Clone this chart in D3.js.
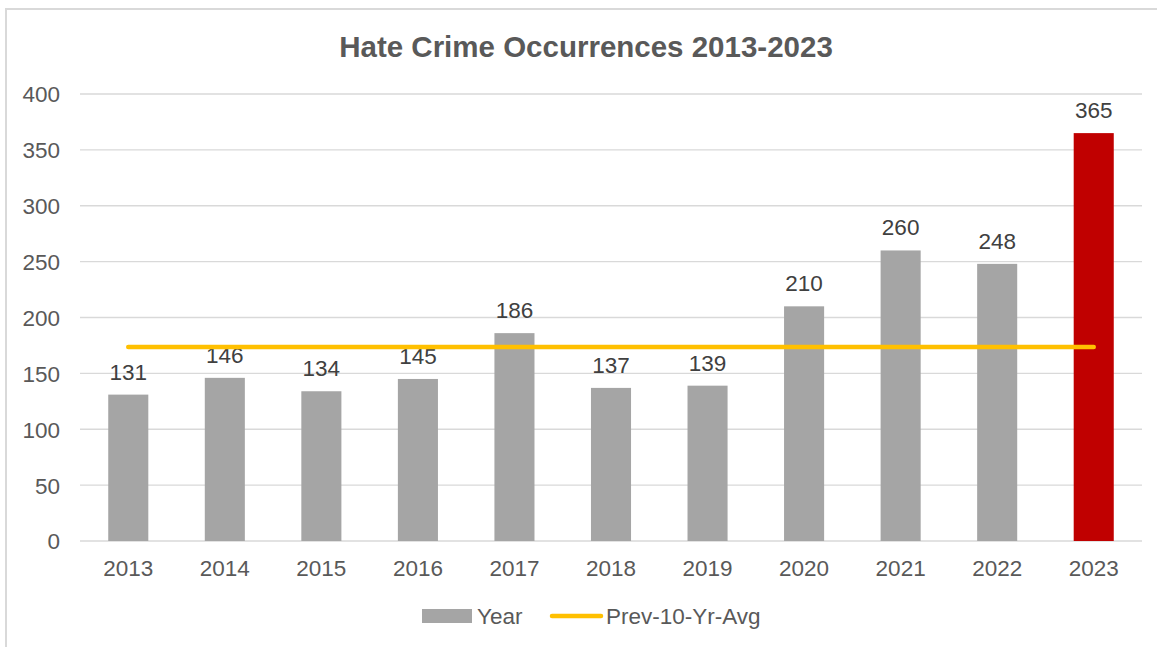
<!DOCTYPE html>
<html>
<head>
<meta charset="utf-8">
<script src="https://cdn.jsdelivr.net/npm/d3@7"></script>
<style>
  html, body { margin: 0; padding: 0; background: #fff; }
  svg { display: block; }
  text { font-family: "Liberation Sans", Arial, sans-serif; }
</style>
</head>
<body>
<svg id="chart" width="1157" height="647"></svg>
<script>
const categories = ["2013","2014","2015","2016","2017","2018","2019","2020","2021","2022","2023"];
const yearValues = [131,146,134,145,186,137,139,210,260,248,365];
const prevAvgValues = [173.6,173.6,173.6,173.6,173.6,173.6,173.6,173.6,173.6,173.6,173.6];
const yTicks = [0,50,100,150,200,250,300,350,400];
const highlightYear = "2023";
const title = "Hate Crime Occurrences 2013-2023";
const seriesNames = ["Year", "Prev-10-Yr-Avg"];

const W = 1157, H = 647;
const svg = d3.select("#chart");
const textColor = "#595959";
const fontFam = "'Liberation Sans', Arial, sans-serif";
const fs = "22.5px";

// outer border
svg.append("path")
  .attr("d", `M6,${H} L6,9 L${W},9`)
  .attr("fill", "none").attr("stroke", "#D9D9D9").attr("stroke-width", 2);

const x = d3.scaleBand().domain(categories).range([80, 1142]).paddingInner(0.585).paddingOuter(0.2925);
const y = d3.scaleLinear().domain([0, 400]).range([541, 94]);

// gridlines
svg.append("g").selectAll("line").data(yTicks).join("line")
  .attr("x1", 80).attr("x2", 1142)
  .attr("y1", d => y(d)).attr("y2", d => y(d))
  .attr("stroke", "#D9D9D9").attr("stroke-width", 1.3);

// y axis labels
const yAxis = d3.axisLeft(y).tickValues(yTicks).tickSize(0).tickPadding(0);
const yg = svg.append("g").attr("transform", "translate(60,0)").call(yAxis);
yg.select(".domain").remove();
yg.selectAll("text").attr("fill", textColor).style("font-size", fs)
  .style("font-family", fontFam).attr("dy", "0.35em");

// x axis labels
const xAxis = d3.axisBottom(x).tickSize(0).tickPadding(0);
const xg = svg.append("g").attr("transform", "translate(0,560)").call(xAxis);
xg.select(".domain").remove();
xg.selectAll("text").attr("fill", textColor).style("font-size", fs)
  .style("font-family", fontFam).attr("y", 0).attr("dy", "0.72em");

// bars
svg.append("g").selectAll("rect").data(categories).join("rect")
  .attr("x", d => x(d)).attr("width", x.bandwidth())
  .attr("y", (d, i) => y(yearValues[i]))
  .attr("height", (d, i) => y(0) - y(yearValues[i]))
  .attr("fill", d => d === highlightYear ? "#C00000" : "#A5A5A5");

// data labels
svg.append("g").selectAll("text").data(categories).join("text")
  .attr("x", d => x(d) + x.bandwidth() / 2)
  .attr("y", (d, i) => y(yearValues[i]) - 15)
  .attr("text-anchor", "middle")
  .attr("fill", "#404040").style("font-size", fs)
  .text((d, i) => yearValues[i]);

// avg line
const line = d3.line()
  .x((d, i) => x(categories[i]) + x.bandwidth() / 2)
  .y(d => y(d));
svg.append("path").datum(prevAvgValues)
  .attr("d", line).attr("fill", "none")
  .attr("stroke", "#FFC000").attr("stroke-width", 4.5).attr("stroke-linecap", "round");

// title
svg.append("text").attr("x", 586).attr("y", 57).attr("text-anchor", "middle")
  .attr("fill", textColor).style("font-size", "29.5px").style("font-weight", "bold")
  .text(title);

// legend
const lg = svg.append("g");
lg.append("rect").attr("x", 422).attr("y", 609).attr("width", 50).attr("height", 14).attr("fill", "#A5A5A5");
lg.append("text").attr("x", 477).attr("y", 624).attr("fill", textColor).style("font-size", fs).text(seriesNames[0]);
lg.append("line").attr("x1", 552).attr("x2", 601).attr("y1", 616).attr("y2", 616)
  .attr("stroke", "#FFC000").attr("stroke-width", 4.5).attr("stroke-linecap", "round");
lg.append("text").attr("x", 606).attr("y", 624).attr("fill", textColor).style("font-size", fs).text(seriesNames[1]);
</script>
</body>
</html>
